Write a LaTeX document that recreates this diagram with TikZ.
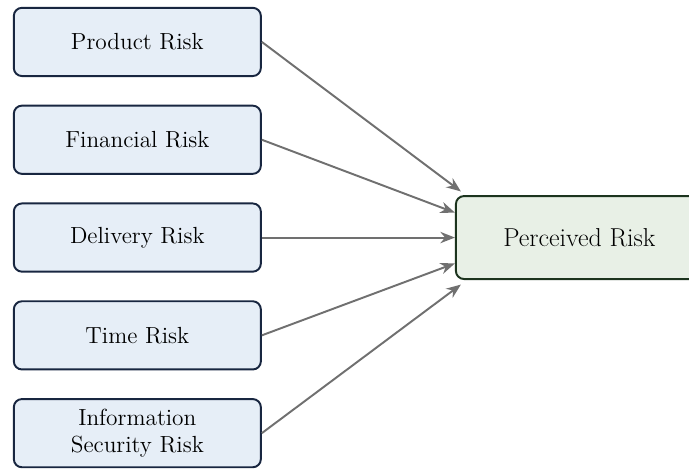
\documentclass[tikz,border=0pt]{standalone}
\usepackage{amsmath, amssymb}
\usepackage{tikz}
\usetikzlibrary{shapes,arrows.meta,positioning,calc}
\definecolor{RiskBlue}{RGB}{230, 238, 247}
\definecolor{RiskNavy}{RGB}{24, 38, 64}
\definecolor{PercGreen}{RGB}{232, 240, 230}
\definecolor{PercDark}{RGB}{28, 52, 30}
\definecolor{LinkGray}{RGB}{112, 112, 112}

\begin{document}
\begin{tikzpicture}[
    riskbox/.style={draw=RiskNavy, fill=RiskBlue, line width=1.2pt, rounded corners=5pt,
      minimum width=5.36cm, minimum height=1.48cm, align=center,
      font=\fontsize{14.4}{16.5}\selectfont},
    percbox/.style={draw=PercDark, fill=PercGreen, line width=1.2pt, rounded corners=5pt,
      minimum width=5.36cm, minimum height=1.8cm, font=\fontsize{16}{18}\selectfont},
    link/.style={-{Stealth[length=9pt,width=7pt]}, LinkGray, line width=1.2pt}
  ]
  % Frame
  \useasboundingbox (0,0) rectangle (14.95,-10.24);

  % Risk dimensions
  \node[riskbox] (product) at (2.98,-0.91) {Product Risk};
  \node[riskbox, below=0.6cm of product] (financial) {Financial Risk};
  \node[riskbox, below=0.6cm of financial] (delivery) {Delivery Risk};
  \node[riskbox, below=0.6cm of delivery] (time) {Time Risk};
  \node[riskbox, below=0.6cm of time] (infosec) {Information\\Security Risk};

  % Outcome
  \node[percbox, right=4.19cm of delivery] (perceived) {Perceived Risk};

  % Arrow targets
  \coordinate (t1) at ($(perceived.west)+(0.13,1.0)$);
  \coordinate (t2) at ($(perceived.west)+(0,0.54)$);
  \coordinate (t4) at ($(perceived.west)+(0,-0.56)$);
  \coordinate (t5) at ($(perceived.west)+(0.13,-1.02)$);

  % Arrows
  \draw[link] (product.east) -- (t1);
  \draw[link] (financial.east) -- (t2);
  \draw[link] (delivery.east) -- (perceived.west);
  \draw[link] (time.east) -- (t4);
  \draw[link] (infosec.east) -- (t5);
\end{tikzpicture}
\end{document}
